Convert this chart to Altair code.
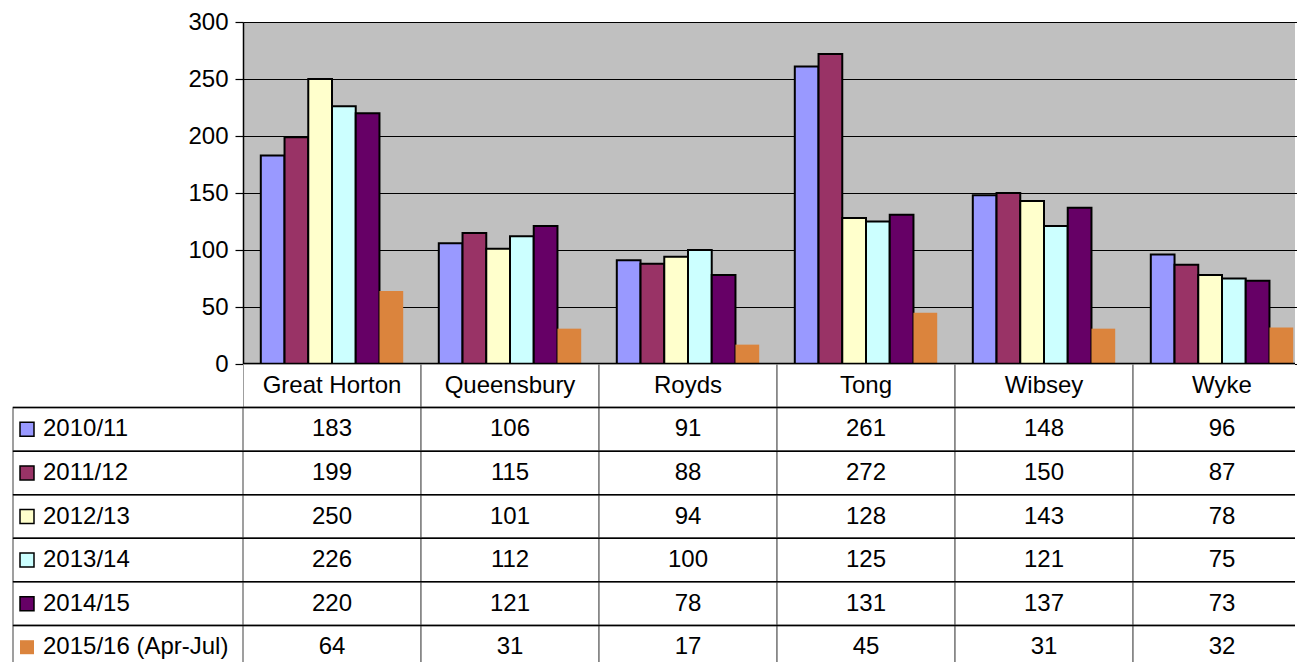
import altair as alt
import pandas as pd

cats = ["Great Horton", "Queensbury", "Royds", "Tong", "Wibsey", "Wyke"]
series = ["2010/11", "2011/12", "2012/13", "2013/14", "2014/15", "2015/16 (Apr-Jul)"]
v_2010 = [183, 106, 91, 261, 148, 96]
v_2011 = [199, 115, 88, 272, 150, 87]
v_2012 = [250, 101, 94, 128, 143, 78]
v_2013 = [226, 112, 100, 125, 121, 75]
v_2014 = [220, 121, 78, 131, 137, 73]
v_2015 = [64, 31, 17, 45, 31, 32]
colors = ["#9999FF", "#993366", "#FFFFCC", "#CCFFFF", "#660066", "#DB843D"]
y_ticks = [0, 50, 100, 150, 200, 250, 300]

values = [v_2010, v_2011, v_2012, v_2013, v_2014, v_2015]
FONT = "Liberation Sans"
FS = 24

rows = []
for s, vals in zip(series, values):
    for c, v in zip(cats, vals):
        rows.append({"cat": c, "series": s, "value": v})
df = pd.DataFrame(rows)

row_domain = ["hdr"] + series

trows = []
for c in cats:
    trows.append({"cat": c, "row": "hdr", "text": c})
for s, vals in zip(series, values):
    for c, v in zip(cats, vals):
        trows.append({"cat": c, "row": s, "text": str(v)})
tdf = pd.DataFrame(trows)

ldf = pd.DataFrame({"row": series, "text": series,
                    "border": [1, 1, 1, 1, 1, 0]})

PW = 1052       # visible width of plot/table panel
XR = 1068       # full extent of the category scale (last column cut off)
PH = 342
LW = 230
TH = 305

last = series[-1]

xscale = alt.Scale(domain=cats, range=[0, XR], paddingInner=0, paddingOuter=0)

bar_layer = alt.Chart(df).mark_bar(stroke="black", strokeWidth=2, clip=True).encode(
    x=alt.X("cat:N", sort=cats, scale=xscale, axis=None),
    xOffset=alt.XOffset("series:N", sort=series,
                        scale=alt.Scale(domain=series, paddingInner=0, paddingOuter=0.75)),
    y=alt.Y("value:Q", scale=alt.Scale(domain=[0, 300], nice=False),
            axis=alt.Axis(values=y_ticks, title=None, grid=True, gridColor="black",
                          gridWidth=1, domainColor="black", domainWidth=1.5,
                          tickColor="black", tickSize=8, tickWidth=1.2,
                          labelFont=FONT, labelFontSize=FS, labelColor="black",
                          labelPadding=7)),
    color=alt.Color("series:N", scale=alt.Scale(domain=series, range=colors), legend=None),
    strokeOpacity=alt.condition(f"datum.series == '{last}'", alt.value(0), alt.value(1)),
)
base_line = alt.Chart(pd.DataFrame({"value": [0]})).mark_rule(color="black", strokeWidth=2.5).encode(
    y=alt.Y("value:Q"),
    x=alt.value(0), x2=alt.value("width"),
)
bars = alt.layer(bar_layer, base_line).properties(
    width=PW, height=PH, view=alt.ViewBackground(fill="#C0C0C0"))

spacer = alt.Chart(pd.DataFrame({"a": [0]})).mark_rect(opacity=0).encode(
    x=alt.value(0), x2=alt.value("width"), y=alt.value(0), y2=alt.value("height"),
).properties(width=LW, height=PH)

yrow = alt.Y("row:N", sort=row_domain,
             scale=alt.Scale(domain=row_domain, paddingInner=0, paddingOuter=0),
             axis=None)

cells = alt.Chart(tdf).mark_rect(fill="white", stroke="#808080", strokeWidth=1.5, clip=True).encode(
    x=alt.X("cat:N", sort=cats, scale=xscale, axis=None),
    y=yrow,
)
hlines = alt.Chart(ldf).mark_rule(color="black", strokeWidth=1.5).encode(
    y=alt.Y("row:N", sort=row_domain, bandPosition=0,
            scale=alt.Scale(domain=row_domain, paddingInner=0, paddingOuter=0), axis=None),
    x=alt.value(0), x2=alt.value("width"),
)
ctext = alt.Chart(tdf).mark_text(font=FONT, fontSize=FS, color="black", clip=True).encode(
    x=alt.X("cat:N", sort=cats, scale=xscale, axis=None),
    y=yrow,
    text="text:N",
)
table = alt.layer(cells, hlines, ctext).properties(width=PW, height=TH)

lcells = alt.Chart(ldf).mark_rect(fill="white", stroke="#808080", strokeWidth=1.5).encode(
    x=alt.value(0), x2=alt.value("width"), y=yrow,
)
lkeys = alt.Chart(ldf).mark_point(shape="square", filled=True, size=196, opacity=1,
                                   stroke="black", strokeWidth=1.5).encode(
    x=alt.value(14),
    y=yrow,
    color=alt.Color("row:N", scale=alt.Scale(domain=series, range=colors), legend=None),
    strokeOpacity=alt.condition("datum.border == 1", alt.value(1), alt.value(0)),
)
ltext = alt.Chart(ldf).mark_text(font=FONT, fontSize=FS, color="black", align="left").encode(
    x=alt.value(30), y=yrow, text="text:N",
)
labels = alt.layer(lcells, hlines, lkeys, ltext).properties(width=LW, height=TH)

chart = alt.concat(spacer, bars, labels, table, columns=2, spacing=0, bounds="flush").resolve_scale(
    color="independent"
).configure_view(strokeWidth=0).properties(
    background="white",
    padding={"left": 4, "top": 2, "right": 0, "bottom": 0},
)

chart.save("out.html", embed_options={"renderer": "svg", "actions": False})
